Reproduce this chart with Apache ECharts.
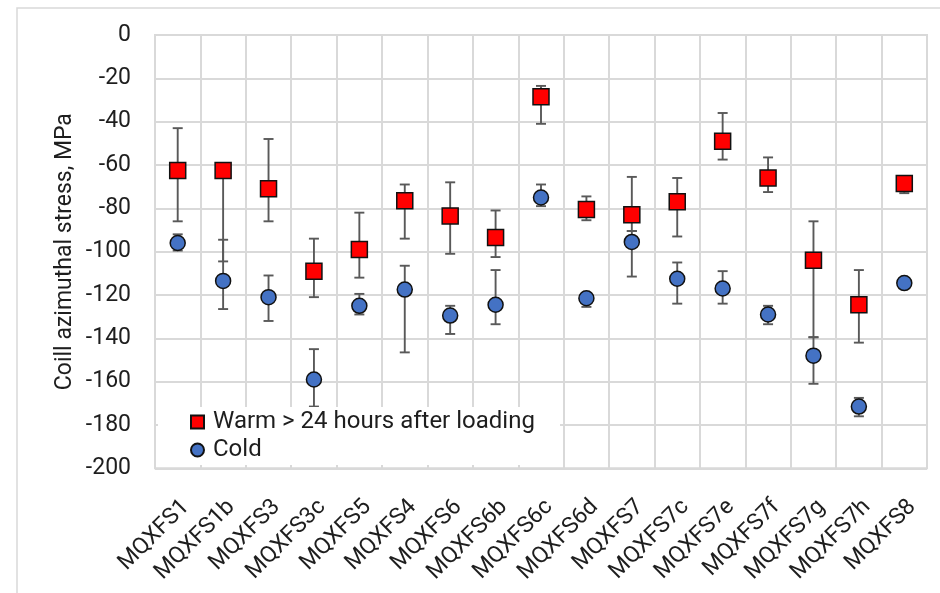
<!DOCTYPE html>
<html>
<head>
<meta charset="utf-8">
<style>
  html, body { margin: 0; padding: 0; background: #fff; }
  #chart { width: 940px; height: 593px; }
</style>
<script src="https://cdn.jsdelivr.net/npm/echarts@6/dist/echarts.min.js"></script>
</head>
<body>
<div id="chart"></div>
<script>
// Magnet names
const categories = ['MQXFS1', 'MQXFS1b', 'MQXFS3', 'MQXFS3c', 'MQXFS5', 'MQXFS4', 'MQXFS6', 'MQXFS6b',
  'MQXFS6c', 'MQXFS6d', 'MQXFS7', 'MQXFS7c', 'MQXFS7e', 'MQXFS7f', 'MQXFS7g', 'MQXFS7h', 'MQXFS8'];

// Warm, more than 24 h after loading (MPa) with range
const warmMean = [-62.5, -62.5, -71, -109, -99, -76.5, -83.5, -93.5, -28.5, -80.5, -83, -77, -49, -66, -104, -124.5, -68.5];
const warmHigh = [-43, -60, -48, -94, -82, -69, -68, -81, -23.5, -74.5, -65.5, -66, -36, -56.5, -86, -108.5, -66];
const warmLow  = [-86, -104.5, -86, -121, -112, -94, -101, -102.5, -41, -85.5, -90.5, -93, -57.5, -72.5, -139.5, -142, -73];

// Cold (MPa) with range
const coldMean = [-96, -113.5, -121, -159, -125, -117.5, -129.5, -124.5, -75, -121.5, -95.5, -112.5, -117, -129, -148, -171.5, -114.5];
const coldHigh = [-92, -94.5, -111, -145, -119.5, -106.5, -125, -108.5, -69, -119, -90.5, -105, -109, -125, -139.5, -167.5, -114.5];
const coldLow  = [-99.5, -126.5, -132, -171.5, -129, -146.5, -138, -133.5, -79, -125.5, -111.5, -124, -124, -133.5, -161, -176, -114.5];

// Y axis ticks
const yMin = -200, yMax = 0, yStep = 20;

const font = 'Roboto, "Noto Sans", sans-serif';
const textColor = '#1e1e1e';

function errorData(high, low) {
  return high.map((h, i) => [i, h, low[i]]);
}

function renderError(params, api) {
  const i = api.value(0);
  const top = api.coord([i, api.value(1)]);
  const bot = api.coord([i, api.value(2)]);
  const cap = 5;
  const style = { stroke: '#595959', lineWidth: 1.9 };
  return {
    type: 'group',
    children: [
      { type: 'line', shape: { x1: top[0], y1: top[1], x2: bot[0], y2: bot[1] }, style },
      { type: 'line', shape: { x1: top[0] - cap, y1: top[1], x2: top[0] + cap, y2: top[1] }, style },
      { type: 'line', shape: { x1: bot[0] - cap, y1: bot[1], x2: bot[0] + cap, y2: bot[1] }, style }
    ]
  };
}

const chart = echarts.init(document.getElementById('chart'), null, { renderer: 'canvas' });

chart.setOption({
  backgroundColor: '#fff',
  animation: false,
  graphic: [
    { type: 'rect', shape: { x: 17, y: 8, width: 940, height: 600 },
      style: { fill: 'none', stroke: '#d9d9d9', lineWidth: 1.5 }, z: 0 },
    { type: 'rect', shape: { x: 158, y: 407, width: 402, height: 58 },
      style: { fill: '#fff' }, z: 3 }
  ],
  grid: {
    left: 155, top: 35, width: 772, height: 433.3,
    show: true, borderColor: '#d9d9d9', borderWidth: 2, backgroundColor: 'transparent'
  },
  legend: {
    orient: 'vertical',
    left: 190, top: 408,
    padding: 0,
    itemWidth: 13, itemHeight: 13, itemGap: 0,
    z: 5,
    textStyle: { fontFamily: font, fontSize: 24, color: textColor, lineHeight: 28, padding: [0, 0, 0, 4] },
    data: ['Warm > 24 hours after loading', 'Cold']
  },
  xAxis: {
    type: 'category',
    data: categories,
    boundaryGap: true,
    axisLine: { lineStyle: { color: '#d9d9d9', width: 2 } },
    axisTick: { show: false },
    splitLine: { show: true, interval: 0, lineStyle: { color: '#d9d9d9', width: 2 } },
    axisLabel: {
      interval: 0, rotate: 45, verticalAlign: 'top',
      fontFamily: font, fontSize: 23, color: textColor, margin: 27
    }
  },
  yAxis: {
    type: 'value',
    min: yMin, max: yMax, interval: yStep,
    name: 'Coill azimuthal stress, MPa',
    nameLocation: 'middle',
    nameGap: 78,
    nameMoveOverlap: false,
    nameTextStyle: { fontFamily: font, fontSize: 23, color: textColor },
    axisLine: { show: false },
    axisTick: { show: false },
    splitLine: { lineStyle: { color: '#d9d9d9', width: 2 } },
    axisLabel: { fontFamily: font, fontSize: 23, color: textColor, margin: 24 }
  },
  series: [
    {
      type: 'custom', name: 'warmErr', renderItem: renderError,
      data: errorData(warmHigh, warmLow), z: 2, silent: true
    },
    {
      type: 'custom', name: 'coldErr', renderItem: renderError,
      data: errorData(coldHigh, coldLow), z: 2, silent: true
    },
    {
      type: 'scatter', name: 'Cold', data: coldMean,
      symbol: 'circle', symbolSize: 15, z: 3,
      itemStyle: { color: '#4472C4', borderColor: '#111', borderWidth: 1.5, opacity: 1 }
    },
    {
      type: 'scatter', name: 'Warm > 24 hours after loading', data: warmMean,
      symbol: 'rect', symbolSize: 16, z: 4,
      itemStyle: { color: '#FF0000', borderColor: '#111', borderWidth: 1.5, opacity: 1 }
    }
  ]
});
</script>
</body>
</html>
